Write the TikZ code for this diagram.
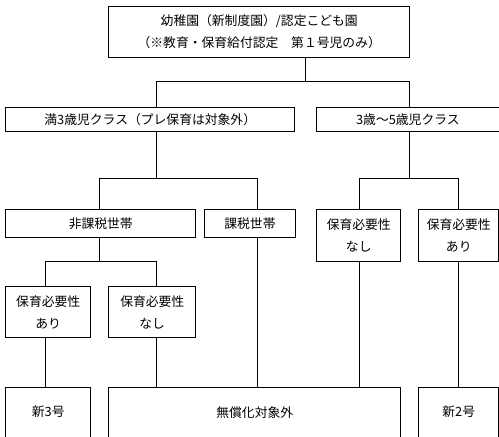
\documentclass[tikz,border=0pt]{standalone}
\usepackage{fontspec}
\setmainfont{Noto Sans CJK JP}
\begin{document}
\begin{tikzpicture}[x=1pt,y=-1pt,
  box/.style={draw,line width=0.9pt,inner sep=0pt,anchor=north west,align=center,font=\fontsize{12.8}{22}\selectfont},
  conn/.style={line width=0.9pt}]
\useasboundingbox (0,0) rectangle (499,437);
% boxes
\node[box,minimum width=301pt,minimum height=50.4pt] (top) at (108.3,6.3) {幼稚園（新制度園）/認定こども園\\（※教育・保育給付認定　第１号児のみ）};
\node[box,minimum width=289pt,minimum height=24.3pt] (L1) at (5.3,106.7) {満3歳児クラス（プレ保育は対象外）};
\node[box,minimum width=182.3pt,minimum height=24.3pt] (R1) at (316.3,106.7) {3歳～5歳児クラス};
\node[box,minimum width=190pt,minimum height=27.4pt] (hika) at (5.3,209.3) {非課税世帯};
\node[box,minimum width=90.4pt,minimum height=27.4pt] (kazei) at (204.3,209.3) {課税世帯};
\node[box,minimum width=84pt,minimum height=52pt] (rnashi) at (316.3,209.3) {保育必要性\\なし};
\node[box,minimum width=80pt,minimum height=52pt] (rari) at (418.3,209.3) {保育必要性\\あり};
\node[box,minimum width=85pt,minimum height=50.4pt] (lari) at (5.3,286.3) {保育必要性\\あり};
\node[box,minimum width=87pt,minimum height=50.4pt] (lnashi) at (108.3,286.3) {保育必要性\\なし};
\node[box,minimum width=85pt,minimum height=50pt] (shin3) at (5.3,386.7) {新3号};
\node[box,minimum width=292pt,minimum height=50pt] (mushoka) at (108.3,386.7) {無償化対象外};
\node[box,minimum width=80pt,minimum height=50pt] (shin2) at (418.3,386.7) {新2号};
% connector columns and junction levels
\coordinate (xa) at (305.3,0);
\coordinate (xb) at (156.7,0);
\coordinate (xc) at (409.3,0);
\coordinate (xd) at (99.3,0);
\coordinate (xe) at (257.3,0);
\coordinate (xf) at (359.3,0);
\coordinate (xg) at (458.3,0);
\coordinate (xh) at (45.3,0);
\coordinate (j1) at (0,81);
\coordinate (j2) at (0,178.3);
\coordinate (j3) at (0,261.3);
% connectors
\draw[conn] (top.south -| xa) -- (xa |- j1);
\draw[conn] (L1.north -| xb) -- (xb |- j1) -- (xc |- j1) -- (R1.north -| xc);
\draw[conn] (L1.south -| xb) -- (xb |- j2);
\draw[conn] (hika.north -| xd) -- (xd |- j2) -- (xe |- j2) -- (kazei.north -| xe);
\draw[conn] (R1.south -| xc) -- (xc |- j2);
\draw[conn] (rnashi.north -| xf) -- (xf |- j2) -- (xg |- j2) -- (rari.north -| xg);
\draw[conn] (hika.south -| xd) -- (xd |- j3);
\draw[conn] (lari.north -| xh) -- (xh |- j3) -- (xb |- j3) -- (lnashi.north -| xb);
\draw[conn] (lari.south -| xh) -- (shin3.north -| xh);
\draw[conn] (lnashi.south -| xb) -- (mushoka.north -| xb);
\draw[conn] (kazei.south -| xe) -- (mushoka.north -| xe);
\draw[conn] (rnashi.south -| xf) -- (mushoka.north -| xf);
\draw[conn] (rari.south -| xg) -- (shin2.north -| xg);
\end{tikzpicture}
\end{document}
